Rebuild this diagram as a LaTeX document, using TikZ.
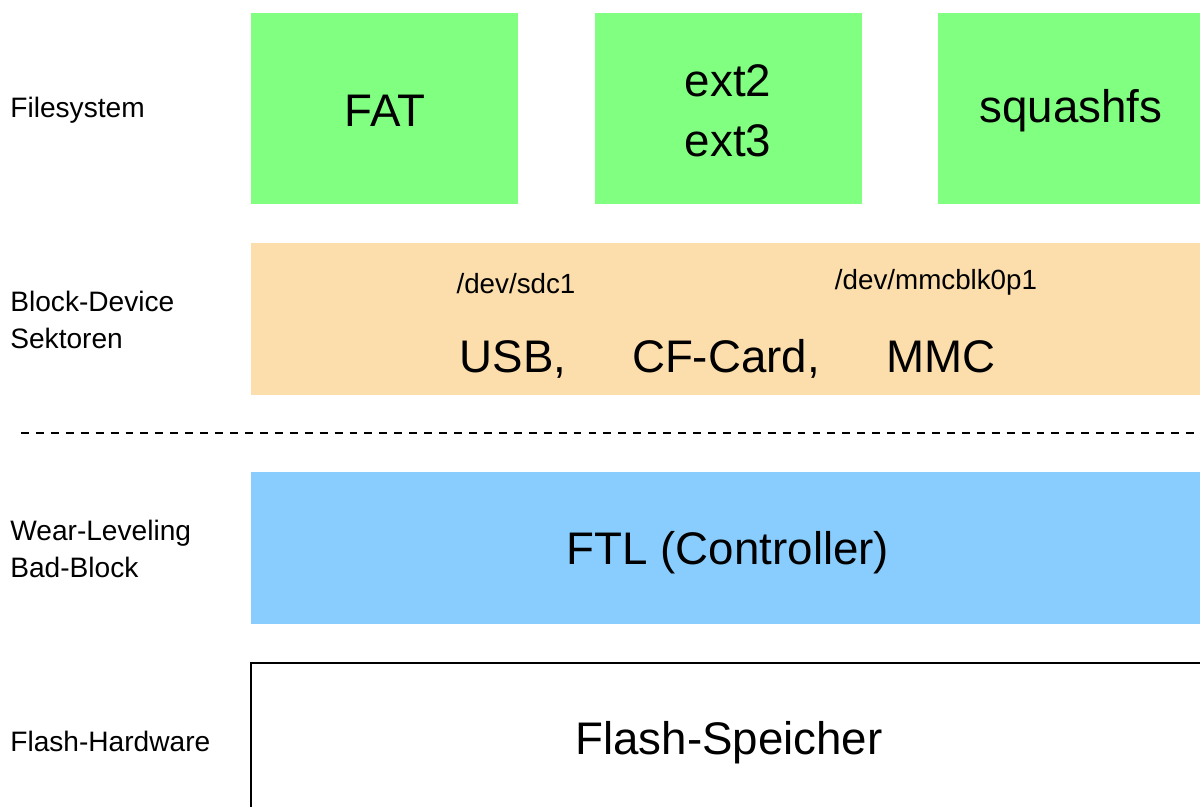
\documentclass[tikz,border=0pt]{standalone}
\usepackage{fontspec}
\setmainfont{Liberation Sans}
\definecolor{fsgreen}{RGB}{128,255,128}
\definecolor{blkorange}{RGB}{252,221,172}
\definecolor{ftlblue}{RGB}{136,205,253}
\tikzset{
  layername/.style={anchor=west, align=left, inner sep=0pt,
    font=\fontsize{16}{21.5}\selectfont},
  bigtext/.style={anchor=base, inner sep=0pt, font=\fontsize{26}{34}\selectfont},
  devtext/.style={anchor=base, inner sep=0pt, font=\fontsize{15.8}{18}\selectfont}
}

\begin{document}
\begin{tikzpicture}[x=0.02cm, y=-0.02cm]
\useasboundingbox (0,0) rectangle (1200,807);
\clip (0,0) rectangle (1200,807);
% Filesystem layer
    \fill[fsgreen] (251,13) rectangle (518,204);
    \fill[fsgreen] (595,13) rectangle (862,204);
    \fill[fsgreen] (938,13) rectangle (1210,204);
    \node[bigtext] (fat) at (385,127) {FAT};
    \node[bigtext] (ext2) at (728,97) {ext2};
    \node[bigtext] (ext3) at (728,157) {ext3};
    \node[bigtext] (squash) at (1071,123) {squashfs};
% Block devices
    \fill[blkorange] (251,243) rectangle (1210,395);
    \node[devtext] (sdc) at (516,294) {/dev/sdc1};
    \node[devtext] (mmcblk) at (936,290) {/dev/mmcblk0p1};
    \node[bigtext] (usb) at (513,373) {USB,};
    \node[bigtext] (cf) at (726,373) {CF-Card,};
    \node[bigtext] (mmc) at (941,373) {MMC};
% Separator
    \draw[line width=1.5pt, dash pattern=on 4.5pt off 4pt] (21,433) -- (1210,433);
% Controller
    \fill[ftlblue] (251,472) rectangle (1210,624);
    \node[bigtext] (ftl) at (728,564) {FTL (Controller)};
% Flash
    \draw[line width=1.6pt] (251,820) -- (251,663) -- (1210,663);
    \node[bigtext] (flash) at (729,754) {Flash-Speicher};
% Layer names
    \node[layername] (lfs) at (10,110) {Filesystem};
    \node[layername] (lblk) at (10,320) {Block-Device\\Sektoren};
    \node[layername] (lwear) at (10,549) {Wear-Leveling\\Bad-Block};
    \node[layername] (lhw) at (10,741) {Flash-Hardware};
\end{tikzpicture}
\end{document}
